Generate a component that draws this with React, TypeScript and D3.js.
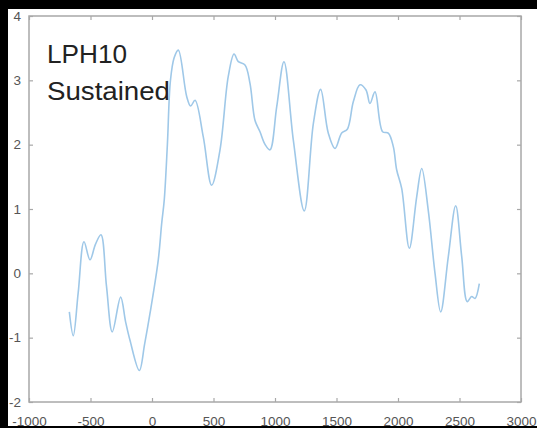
import React, { useRef, useEffect } from 'react';
import * as d3 from 'd3';

// trace (time in ms, amplitude)
const times = [-672, -640, -600, -553, -504, -460, -415, -370, -323, -255, -215, -179, -103, -60, -16, 51, 79, 100, 125, 150, 180, 214, 282, 314, 350, 417, 485, 553, 620, 667, 702, 756, 797, 837, 878, 920, 959, 1014, 1073, 1149, 1238, 1312, 1371, 1433, 1488, 1542, 1588, 1637, 1691, 1740, 1772, 1813, 1875, 1921, 1962, 1989, 2030, 2092, 2152, 2193, 2246, 2301, 2347, 2409, 2469, 2518, 2563, 2599, 2626, 2661];
const values = [-0.6, -0.97, -0.3, 0.49, 0.21, 0.45, 0.6, -0.2, -0.91, -0.37, -0.75, -1.04, -1.51, -1.1, -0.62, 0.21, 0.78, 1.15, 2.0, 3.0, 3.35, 3.47, 2.75, 2.6, 2.69, 2.12, 1.37, 1.92, 3.06, 3.41, 3.29, 3.24, 2.95, 2.38, 2.2, 2.0, 1.92, 2.59, 3.29, 2.07, 0.97, 2.33, 2.86, 2.18, 1.94, 2.18, 2.24, 2.67, 2.93, 2.85, 2.64, 2.82, 2.2, 2.18, 1.97, 1.61, 1.32, 0.39, 1.19, 1.63, 0.98, 0.0, -0.6, 0.26, 1.05, 0.26, -0.44, -0.36, -0.39, -0.16];
const xTicks = [-1000, -500, 0, 500, 1000, 1500, 2000, 2500, 3000];
const yTicks = [-2, -1, 0, 1, 2, 3, 4];
const labelLines = ['LPH10', 'Sustained'];

const W = 537;
const H = 428;

export default function App() {
    const ref = useRef<SVGSVGElement>(null);

    useEffect(() => {
        if (!ref.current) return;
        const svg = d3.select(ref.current);
        svg.selectAll('*').remove();

        const left = 29, right = 521, top = 16, bottom = 402;

        svg.append('rect').attr('width', W).attr('height', H).attr('fill', '#000');
        svg.append('rect').attr('x', 8).attr('y', 9).attr('width', W - 8).attr('height', 417).attr('fill', '#fff');

        const x = d3.scaleLinear().domain([-1000, 3000]).range([left, right]);
        const y = d3.scaleLinear().domain([-2, 4]).range([bottom, top]);

        const styleAxis = (g: any) => {
            g.select('.domain').remove();
            g.selectAll('.tick line').attr('stroke', '#a8a8a8').attr('stroke-width', 1.2);
            g.selectAll('.tick text')
                .attr('fill', '#555')
                .style('font-family', '"Liberation Sans", Arial, sans-serif')
                .style('font-size', '13.5px');
        };
        const plain = (d: any) => String(d);

        svg.append('g')
            .attr('transform', `translate(0,${bottom})`)
            .call(d3.axisBottom(x).tickValues(xTicks).tickSizeInner(-4).tickSizeOuter(0).tickPadding(14).tickFormat(plain))
            .call(styleAxis);
        svg.append('g')
            .attr('transform', `translate(0,${top})`)
            .call(d3.axisTop(x).tickValues(xTicks).tickSizeInner(-4).tickSizeOuter(0).tickFormat(() => ''))
            .call(styleAxis);
        svg.append('g')
            .attr('transform', `translate(${left},0)`)
            .call(d3.axisLeft(y).tickValues(yTicks).tickSizeInner(-4).tickSizeOuter(0).tickPadding(8).tickFormat(plain))
            .call(styleAxis);
        svg.append('g')
            .attr('transform', `translate(${right},0)`)
            .call(d3.axisRight(y).tickValues(yTicks).tickSizeInner(-4).tickSizeOuter(0).tickFormat(() => ''))
            .call(styleAxis);

        svg.append('rect')
            .attr('x', left).attr('y', top)
            .attr('width', right - left).attr('height', bottom - top)
            .attr('fill', 'none').attr('stroke', '#a8a8a8').attr('stroke-width', 1.5);

        const pts = times.map((t, i) => [t, values[i]] as [number, number]);
        const line = d3.line<[number, number]>()
            .x(d => x(d[0]))
            .y(d => y(d[1]))
            .curve(d3.curveCatmullRom.alpha(0.5));
        svg.append('path')
            .attr('d', line(pts))
            .attr('fill', 'none')
            .attr('stroke', '#9fc8e8')
            .attr('stroke-width', 1.6);

        svg.append('g').selectAll('text')
            .data(labelLines)
            .join('text')
            .attr('x', 47)
            .attr('y', (d, i) => 63 + i * 37)
            .attr('fill', '#222')
            .style('font-family', '"Liberation Sans", Arial, sans-serif')
            .style('font-size', '26.5px')
            .attr('textLength', (d, i) => (i === 0 ? 80 : 123))
            .attr('lengthAdjust', 'spacingAndGlyphs')
            .text(d => d);

        // black strip at the bottom cuts the tick labels slightly
        svg.append('rect').attr('x', 0).attr('y', 426).attr('width', W).attr('height', 2).attr('fill', '#000');
    }, []);

    return (
        <svg ref={ref} width={W} height={H} style={{ position: 'absolute', left: 0, top: 0 }}></svg>
    );
}
